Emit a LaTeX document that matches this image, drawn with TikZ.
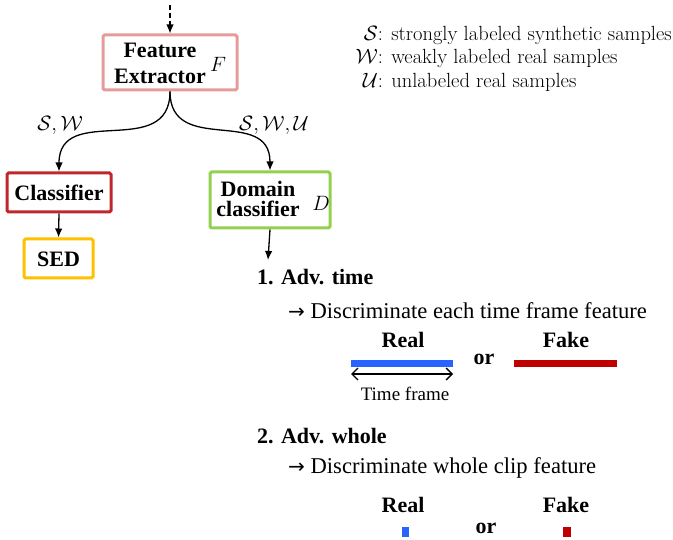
\documentclass[tikz,border=0pt]{standalone}
\usepackage{amsmath}
\usepackage{amssymb}
\usepackage{fontspec}
\usetikzlibrary{arrows.meta}
\newfontfamily\tnr{Liberation Serif}
\newfontfamily\dejavu{DejaVu Sans}
\definecolor{fecol}{RGB}{230,155,155}
\definecolor{clscol}{RGB}{192,39,45}
\definecolor{sedcol}{RGB}{255,192,0}
\definecolor{domcol}{RGB}{146,208,80}
\definecolor{realcol}{RGB}{41,98,255}
\definecolor{fakecol}{RGB}{192,0,0}

\begin{document}
\begin{tikzpicture}[x=1pt,y=-1pt,
    box/.style={draw,line width=3pt,rounded corners=1.5pt,inner sep=0pt},
    arr/.style={-{Latex[length=9pt,width=7.5pt]},line width=1.3pt},
    bold/.style={font=\tnr\bfseries\fontsize{22}{20}\selectfont,align=center,inner sep=0pt},
    plain/.style={font=\tnr\fontsize{22.6}{24}\selectfont,inner sep=0pt},
    setlbl/.style={font=\fontsize{20}{20}\selectfont,inner sep=0pt},
    bar/.style={line width=7pt}
]
    \useasboundingbox (0,0) rectangle (673,540);
    % network
    \node[box,draw=fecol,minimum width=134,minimum height=55] (fe) at (170,62.5) {};
    \node[bold,font=\tnr\bfseries\fontsize{22}{26}\selectfont] (fetxt) at (160,63) {Feature\\Extractor};
    \node[setlbl] (feF) at (218,64) {$F$};
    \node[box,draw=clscol,minimum width=104,minimum height=39] (cls) at (59,192.5) {};
    \node[bold] (clstxt) at (59,193) {Classifier};
    \node[box,draw=sedcol,minimum width=69,minimum height=39] (sed) at (58.5,258.5) {};
    \node[bold] (sedtxt) at (58.5,259) {SED};
    \node[box,draw=domcol,minimum width=120,minimum height=56] (dom) at (270,200) {};
    \node[bold] (domtxt) at (258,199) {Domain\\classifier};
    \node[setlbl] (domD) at (321,203) {$D$};
    \coordinate (in) at (170,5);
    \coordinate (out) at (268,260);
    \draw[arr,dashed,dash pattern=on 5pt off 3pt] (in) -- (fe.north);
    \draw[arr] (fe.south) to[out=-90,in=90,looseness=1.3] (cls.north);
    \draw[arr] (fe.south) to[out=-90,in=90,looseness=1.3] (dom.north);
    \draw[arr] (cls.south) -- (sed.north);
    \draw[arr] (dom.south) -- (out);
    \node[setlbl] (lsw) at (60,125) {$\mathcal{S},\mathcal{W}$};
    \node[setlbl] (lswu) at (274,125) {$\mathcal{S},\mathcal{W},\mathcal{U}$};
    % legend
    \node[setlbl,font=\fontsize{20.5}{23.5}\selectfont,anchor=east] (legend) at (672,59) {%
        \begin{tabular}{@{}r@{}l@{}}
        $\mathcal{S}$&: strongly labeled synthetic samples\\
        $\mathcal{W}$&: weakly labeled real samples\\
        $\mathcal{U}$&: unlabeled real samples
        \end{tabular}};
    % adversarial variants
    \node[bold,anchor=west] (advt) at (257,277) {1. Adv. time};
    \node[plain,anchor=west] (disct) at (288,311) {{\dejavu\fontsize{20}{24}\selectfont →} Discriminate each time frame feature};
    \node[bold] (realt) at (403,340) {Real};
    \node[bold] (faket) at (566,340) {Fake};
    \node[bold] (ort) at (484,359) {or};
    \coordinate (rt1) at (351,364);
    \coordinate (rt2) at (453,364);
    \coordinate (ft1) at (514,364);
    \coordinate (ft2) at (617,364);
    \draw[bar,realcol] (rt1) -- (rt2);
    \draw[bar,fakecol] (ft1) -- (ft2);
    \coordinate (tf1) at (351,374);
    \coordinate (tf2) at (453,374);
    \draw[{Straight Barb[length=6pt]}-{Straight Barb[length=6pt]},line width=1.3pt] (tf1) -- (tf2);
    \node[plain,font=\tnr\fontsize{19}{22}\selectfont] (tflbl) at (405,394) {Time frame};
    \node[bold,anchor=west] (advw) at (257,436) {2. Adv. whole};
    \node[plain,anchor=west] (discw) at (288,468) {{\dejavu\fontsize{20}{24}\selectfont →} Discriminate whole clip feature};
    \node[bold] (realw) at (403,505) {Real};
    \node[bold] (fakew) at (566,505) {Fake};
    \node[bold] (orw) at (486,528) {or};
    \fill[realcol] (402,527) rectangle (409,537);
    \fill[fakecol] (563,527) rectangle (571,537);
\end{tikzpicture}
\end{document}
